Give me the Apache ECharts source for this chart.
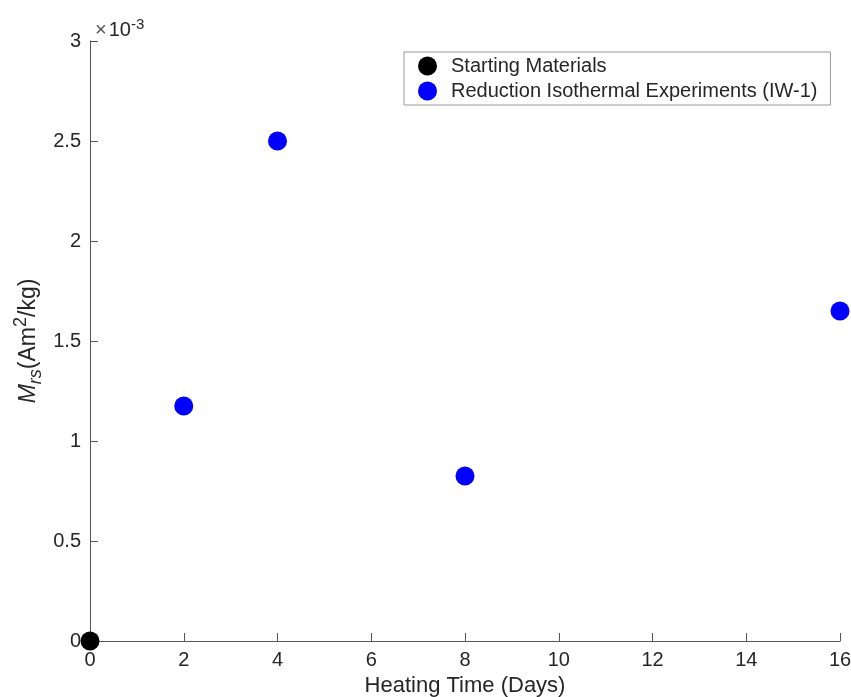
<!DOCTYPE html>
<html><head><meta charset="utf-8">
<script src="https://cdn.jsdelivr.net/npm/echarts@6/dist/echarts.min.js"></script>
<style>html,body{margin:0;padding:0;background:#fff}#c{width:851px;height:697px}</style>
</head><body><div id="c"></div>
<script>
const startX = [0];
const startY = [0];
const expX = [2, 4, 8, 16];
const expY = [0.001175, 0.0025, 0.000825, 0.00165];
const xTicks = [0, 2, 4, 6, 8, 10, 12, 14, 16];
const yTicks = [0, 0.0005, 0.001, 0.0015, 0.002, 0.0025, 0.003];
const seriesNames = ['Starting Materials', 'Reduction Isothermal Experiments (IW-1)'];

const font = 'Liberation Sans, Arial, Helvetica, sans-serif';
const chart = echarts.init(document.getElementById('c'));
const axisCol = '#555';
const txt = '#262626';
chart.setOption({
  animation: false,
  title: {
    text: '{x|×}{t|10}{s|-3}',
    left: 90, top: 12,
    textStyle: {
      fontWeight: 'normal',
      rich: {
        x: {fontSize: 20, color: '#555', fontFamily: font, fontWeight: 'normal', padding: [0,2,0,0]},
        t: {fontSize: 20, color: txt, fontFamily: font, fontWeight: 'normal'},
        s: {fontSize: 15, color: txt, fontFamily: font, fontWeight: 'normal', verticalAlign: 'top', padding: [0,0,12,0]}
      }
    }
  },
  grid: {left: 90, right: 11, top: 41, bottom: 56, containLabel: false, outerBoundsMode: 'none'},
  legend: {
    orient: 'vertical', left: 404, top: 52,
    padding: [4, 13, 4, 14], itemGap: 5, itemWidth: 19, itemHeight: 19,
    borderColor: '#999', borderWidth: 1, backgroundColor: '#fff',
    textStyle: {fontSize: 20, color: txt, fontFamily: font, padding: [0,0,0,9]},
    data: [{name: seriesNames[0], icon: 'circle'}, {name: seriesNames[1], icon: 'circle'}]
  },
  xAxis: {
    type: 'value', min: 0, max: 16, interval: 2,
    name: 'Heating Time (Days)', nameLocation: 'middle', nameGap: 34,
    nameTextStyle: {fontSize: 22, color: txt, fontFamily: font},
    axisLine: {show: true, lineStyle: {color: axisCol, width: 1}},
    axisTick: {show: true, inside: true, length: 8, lineStyle: {color: axisCol}},
    axisLabel: {fontSize: 20, color: txt, fontFamily: font, margin: 9,
      formatter: v => xTicks.includes(v) ? String(v) : ''},
    splitLine: {show: false}
  },
  yAxis: {
    type: 'value', min: 0, max: 0.003, interval: 0.0005,
    name: '{m|M}{r|rs}{n|(Am}{s|2}{n|/kg)}', nameLocation: 'middle', nameGap: 45,
    nameMoveOverlap: false,
    nameTextStyle: {
      rich: {
        m: {fontSize: 23, fontStyle: 'italic', color: txt, fontFamily: font},
        r: {fontSize: 18, fontStyle: 'italic', color: txt, fontFamily: font, verticalAlign: 'bottom', padding: [15,0,0,0]},
        n: {fontSize: 23, color: txt, fontFamily: font},
        s: {fontSize: 18, color: txt, fontFamily: font, verticalAlign: 'top', padding: [0,0,15,0]}
      }
    },
    axisLine: {show: true, lineStyle: {color: axisCol, width: 1}},
    axisTick: {show: true, inside: true, length: 8, lineStyle: {color: axisCol}},
    axisLabel: {fontSize: 20, color: txt, fontFamily: font, margin: 9,
      formatter: v => { const s = Math.round(v * 10000) / 10; return String(s); }},
    splitLine: {show: false}
  },
  series: [
    {name: seriesNames[0], type: 'scatter', symbol: 'circle', symbolSize: 19,
      itemStyle: {color: '#000', opacity: 1},
      data: startX.map((x, i) => [x, startY[i]])},
    {name: seriesNames[1], type: 'scatter', symbol: 'circle', symbolSize: 19,
      itemStyle: {color: '#0000ff', opacity: 1},
      data: expX.map((x, i) => [x, expY[i]])}
  ]
});
</script></body></html>
